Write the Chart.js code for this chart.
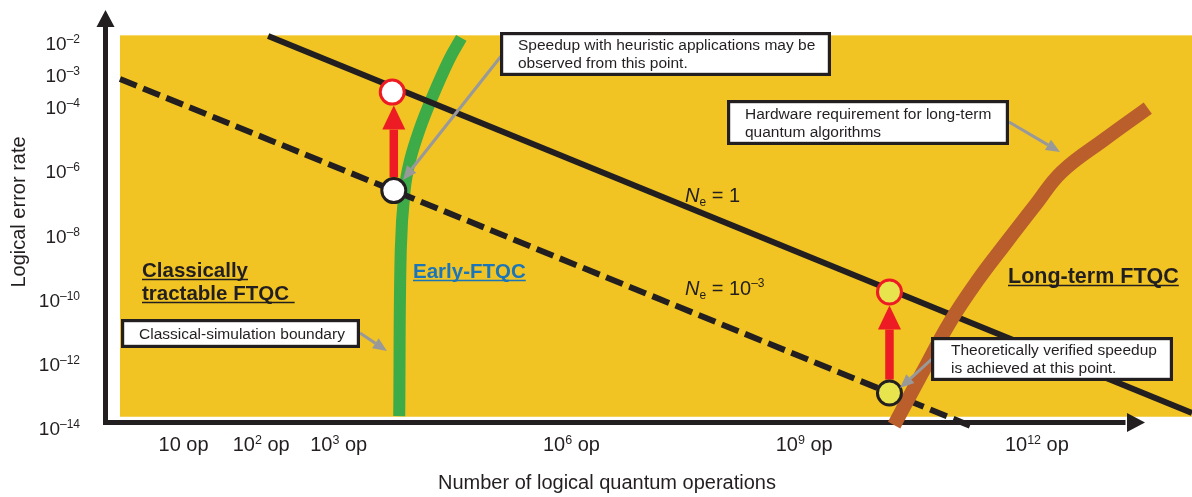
<!DOCTYPE html>
<html>
<head>
<meta charset="utf-8">
<script src="https://cdn.jsdelivr.net/npm/chart.js@4.4.1/dist/chart.umd.min.js"></script>
<style>
  html, body { margin: 0; padding: 0; background: #fff; }
  #wrap { width: 1192px; height: 497px; position: relative; }
</style>
</head>
<body>
<div id="wrap"><canvas id="chart"></canvas></div>
<script>
// axes are exponents of ten (x: number of ops, y: logical error rate)
const xTickValues = [1, 2, 3, 6, 9, 12];
const xTickLabels = ['10 op', '10^2 op', '10^3 op', '10^6 op', '10^9 op', '10^12 op'];
const yTickValues = [-2, -3, -4, -6, -8, -10, -12, -14];
const yTickLabels = ['10^–2', '10^–3', '10^–4', '10^–6', '10^–8', '10^–10', '10^–12', '10^–14'];

// yellow field extent
const fieldX = [0.18, 14];
const fieldY = [-13.68, -1.79];

// Ne = 1 (solid) and Ne = 10^-3 (dashed)
const neOne = [{ x: 2.09, y: -1.81 }, { x: 14.0, y: -13.56 }];
const neMilli = [{ x: 0.18, y: -3.15 }, { x: 11.18, y: -14.0 }];

// classical-simulation boundary (green)
const earlyBoundary = [
  { x: 4.58, y: -1.87 }, { x: 4.42, y: -2.56 }, { x: 4.19, y: -3.81 }, { x: 4.04, y: -4.74 },
  { x: 3.92, y: -5.68 }, { x: 3.85, y: -6.61 }, { x: 3.80, y: -8.48 }, { x: 3.78, y: -13.66 }
];

// hardware requirement for long-term algorithms (brown)
const longTermRequirement = [
  { x: 10.16, y: -13.94 }, { x: 10.52, y: -12.32 }, { x: 10.88, y: -10.73 }, { x: 11.24, y: -9.42 },
  { x: 11.58, y: -8.33 }, { x: 11.98, y: -7.08 }, { x: 12.32, y: -6.05 }, { x: 12.88, y: -5.02 },
  { x: 13.43, y: -4.06 }
];

// speedup points: [start on Ne=1e-3, target on Ne=1]
const heuristicPoints = [{ x: 3.71, y: -6.63 }, { x: 3.69, y: -3.56 }];
const verifiedPoints = [{ x: 10.10, y: -12.94 }, { x: 10.10, y: -9.79 }];

const FONT = '"Liberation Sans", Arial, Helvetica, sans-serif';
const INK = '#231F20';
const RED = '#ED1C24';
const GRAY = '#999999';

function splitSup(label) {
  const m = label.match(/^([^\^ ]+)(?:\^([^ ]+))?(.*)$/);
  return { base: m[1], sup: m[2] || '', tail: m[3] || '' };
}

function drawParts(ctx, parts, x, y, align) {
  let w = 0;
  parts.forEach(p => { ctx.font = p.font; p.w = ctx.measureText(p.text).width; w += p.w; });
  let cx = align === 'right' ? x - w : (align === 'center' ? x - w / 2 : x);
  ctx.textAlign = 'left';
  ctx.textBaseline = 'alphabetic';
  parts.forEach(p => { ctx.font = p.font; ctx.fillText(p.text, cx, y + (p.dy || 0)); cx += p.w; });
  return w;
}

function drawArrow(ctx, x1, y1, x2, y2, width, headLen, headHalf, color) {
  const a = Math.atan2(y2 - y1, x2 - x1);
  const bx = x2 - headLen * Math.cos(a), by = y2 - headLen * Math.sin(a);
  ctx.strokeStyle = color;
  ctx.fillStyle = color;
  ctx.lineWidth = width;
  ctx.lineCap = 'butt';
  ctx.beginPath();
  ctx.moveTo(x1, y1);
  ctx.lineTo(bx, by);
  ctx.stroke();
  ctx.beginPath();
  ctx.moveTo(x2, y2);
  ctx.lineTo(bx + headHalf * Math.sin(a), by - headHalf * Math.cos(a));
  ctx.lineTo(bx - headHalf * Math.sin(a), by + headHalf * Math.cos(a));
  ctx.closePath();
  ctx.fill();
}

function drawBox(ctx, l, t, r, b, lines, tx, baselines) {
  ctx.fillStyle = '#fff';
  ctx.fillRect(l, t, r - l, b - t);
  ctx.strokeStyle = INK;
  ctx.lineWidth = 3.2;
  ctx.strokeRect(l + 1.6, t + 1.6, r - l - 3.2, b - t - 3.2);
  ctx.fillStyle = INK;
  ctx.font = '15.5px ' + FONT;
  ctx.textAlign = 'left';
  ctx.textBaseline = 'alphabetic';
  lines.forEach((s, i) => ctx.fillText(s, tx, baselines[i]));
}

function underlined(ctx, text, x, y, color, font, extra) {
  ctx.font = font;
  ctx.fillStyle = color;
  ctx.textAlign = 'left';
  ctx.textBaseline = 'alphabetic';
  ctx.fillText(text, x, y);
  const w = ctx.measureText(text + (extra || '')).width;
  ctx.strokeStyle = color;
  ctx.lineWidth = 1.5;
  ctx.beginPath();
  ctx.moveTo(x, y + 2.5);
  ctx.lineTo(x + w, y + 2.5);
  ctx.stroke();
}

const schematic = {
  id: 'schematic',
  beforeDatasetsDraw(chart) {
    const { ctx, chartArea, scales: { x, y } } = chart;
    ctx.save();
    // yellow field
    const l = x.getPixelForValue(fieldX[0]), r = x.getPixelForValue(fieldX[1]);
    const t = y.getPixelForValue(fieldY[1]), b = y.getPixelForValue(fieldY[0]);
    ctx.fillStyle = '#F1C423';
    ctx.fillRect(l, t, r - l, b - t);
    // axis lines with arrows
    const ax = chartArea.left - 0.5;
    const ay = chartArea.bottom - 4.5;
    ctx.fillStyle = INK;
    ctx.fillRect(ax - 2.5, chartArea.top + 16, 5, ay + 2.5 - chartArea.top - 16);
    ctx.beginPath();
    ctx.moveTo(ax, chartArea.top);
    ctx.lineTo(ax + 9, chartArea.top + 17);
    ctx.lineTo(ax - 9, chartArea.top + 17);
    ctx.closePath();
    ctx.fill();
    ctx.fillRect(ax - 2.5, ay - 2.5, 1128 - ax, 5);
    ctx.beginPath();
    ctx.moveTo(1145, ay);
    ctx.lineTo(1127, ay - 9.5);
    ctx.lineTo(1127, ay + 9.5);
    ctx.closePath();
    ctx.fill();
    ctx.restore();
  },
  afterDatasetDraw(chart, args) {
    if (args.index !== 1) return;
    const { ctx, scales: { x, y } } = chart;
    const rOut = 13.5;
    ctx.save();
    [heuristicPoints, verifiedPoints].forEach(pair => {
      const px = x.getPixelForValue(pair[0].x);
      const y0 = y.getPixelForValue(pair[0].y) - rOut;
      const y1 = y.getPixelForValue(pair[1].y) + rOut;
      drawArrow(ctx, px, y0, px, y1, 8.5, 24, 11.5, RED);
    });
    ctx.restore();
  },
  afterDraw(chart) {
    const { ctx, scales: { x, y } } = chart;
    ctx.save();
    ctx.fillStyle = INK;
    // y ticks
    yTickValues.forEach((v, i) => {
      const s = splitSup(yTickLabels[i]);
      drawParts(ctx, [
        { text: s.base, font: '19px ' + FONT },
        { text: s.sup, font: '12px ' + FONT, dy: -7 }
      ], 80, y.getPixelForValue(v) + 8, 'right');
    });
    // x ticks
    xTickValues.forEach((v, i) => {
      const s = splitSup(xTickLabels[i]);
      drawParts(ctx, [
        { text: s.base, font: '20px ' + FONT },
        { text: s.sup, font: '12.5px ' + FONT, dy: -7 },
        { text: s.tail, font: '20px ' + FONT }
      ], x.getPixelForValue(v), 451, 'center');
    });
    // axis titles
    ctx.font = '20px ' + FONT;
    ctx.textAlign = 'center';
    ctx.textBaseline = 'alphabetic';
    ctx.fillText('Number of logical quantum operations', 607, 489);
    ctx.save();
    ctx.translate(24.5, 212);
    ctx.rotate(-Math.PI / 2);
    ctx.fillText('Logical error rate', 0, 0);
    ctx.restore();

    // region labels
    const bold = 'bold 20.5px ' + FONT;
    underlined(ctx, 'Classically', 142, 277, INK, bold);
    underlined(ctx, 'tractable FTQC', 142, 300, INK, bold, ' ');
    underlined(ctx, 'Early-FTQC', 413, 278, '#1A75BB', bold);
    underlined(ctx, 'Long-term FTQC', 1008, 283, INK, 'bold 21.5px ' + FONT);

    // Ne labels
    ctx.fillStyle = INK;
    drawParts(ctx, [
      { text: 'N', font: 'italic 20px ' + FONT },
      { text: 'e', font: '12px ' + FONT, dy: 4 },
      { text: ' = 1', font: '20px ' + FONT }
    ], 685, 202, 'left');
    drawParts(ctx, [
      { text: 'N', font: 'italic 20px ' + FONT },
      { text: 'e', font: '12px ' + FONT, dy: 4 },
      { text: ' = 10', font: '20px ' + FONT },
      { text: '–3', font: '12px ' + FONT, dy: -8 }
    ], 685, 295, 'left');

    // callouts
    drawArrow(ctx, 502, 55, 403, 180, 3, 14, 6, GRAY);
    drawArrow(ctx, 1009, 122, 1060, 152, 3, 14, 6, GRAY);
    drawArrow(ctx, 360, 333, 387, 351, 3, 14, 6, GRAY);
    drawArrow(ctx, 933, 358, 900, 388, 3, 14, 6, GRAY);
    drawBox(ctx, 500, 32, 831, 76,
      ['Speedup with heuristic applications may be', 'observed from this point.'], 518, [50, 68]);
    drawBox(ctx, 727, 100, 1009, 145,
      ['Hardware requirement for long-term', 'quantum algorithms'], 745, [118.5, 136.5]);
    drawBox(ctx, 121, 319, 360, 348, ['Classical-simulation boundary'], 139, [338.5]);
    drawBox(ctx, 931, 337, 1173, 381,
      ['Theoretically verified speedup', 'is achieved at this point.'], 951, [355, 373]);
    ctx.restore();
  }
};

const lineBase = { showLine: true, pointRadius: 0, clip: false, fill: false };

new Chart(document.getElementById('chart'), {
  type: 'scatter',
  data: {
    datasets: [
      {
        label: 'Speedup points',
        data: [...heuristicPoints, ...verifiedPoints],
        pointRadius: 12,
        borderWidth: 3,
        pointBackgroundColor: ['#ffffff', '#ffffff', '#E8E44E', '#E8E44E'],
        pointBorderColor: [INK, RED, INK, RED],
        clip: false
      },
      Object.assign({ label: 'Long-term hardware requirement', data: longTermRequirement,
        borderColor: '#BA5F2C', borderWidth: 14, tension: 0.4, borderCapStyle: 'butt' }, lineBase),
      Object.assign({ label: 'Ne = 1', data: neOne, borderColor: INK, borderWidth: 6 }, lineBase),
      Object.assign({ label: 'Ne = 1e-3', data: neMilli, borderColor: INK, borderWidth: 6,
        borderDash: [18, 7] }, lineBase),
      Object.assign({ label: 'Classical-simulation boundary', data: earlyBoundary,
        borderColor: '#3DAB48', borderWidth: 12, tension: 0.4, borderCapStyle: 'butt' }, lineBase)
    ]
  },
  options: {
    responsive: true,
    maintainAspectRatio: false,
    animation: false,
    events: [],
    layout: { autoPadding: false, padding: { top: 10, right: 0, left: 0, bottom: 0 } },
    plugins: { legend: { display: false }, tooltip: { enabled: false } },
    scales: {
      x: {
        type: 'linear', min: 0, max: 14,
        grid: { display: false }, border: { display: false },
        ticks: { display: false },
        afterFit(scale) { scale.height = 70; }
      },
      y: {
        type: 'linear', min: -14, max: -1,
        grid: { display: false }, border: { display: false },
        ticks: { display: false },
        afterFit(scale) { scale.width = 106; }
      }
    }
  },
  plugins: [schematic]
});
</script>
</body>
</html>
